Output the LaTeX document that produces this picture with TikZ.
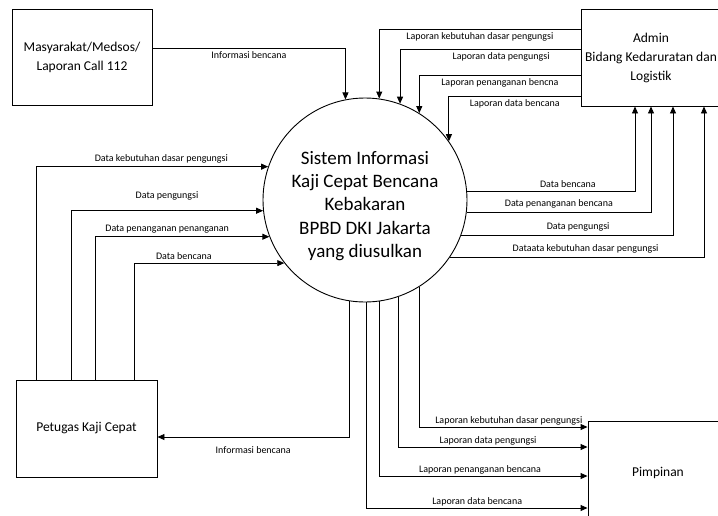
\documentclass[tikz,border=0pt]{standalone}
\usepackage{fontspec}
\setmainfont{Carlito}
\usetikzlibrary{arrows.meta}

\begin{document}
\begin{tikzpicture}[x=1pt, y=-1pt, line width=0.9pt, >={Triangle[length=7pt,width=6pt]},
    entity/.style={draw, rectangle, align=center, inner sep=0pt, font=\fontsize{13.5}{19}\selectfont},
    proc/.style={draw, circle, minimum size=204pt, inner sep=0pt},
    lbl/.style={font=\fontsize{10}{12}\selectfont}]
    \useasboundingbox (0,0) rectangle (718,515);
    \node[entity, minimum width=140pt, minimum height=96pt] (masy) at (82,57) {Masyarakat/Medsos/\\Laporan Call 112};
    \node[entity, minimum width=140pt, minimum height=97pt] (adm) at (651,57.5) {Admin\\Bidang Kedaruratan dan\\Logistik};
    \node[entity, minimum width=141pt, minimum height=97pt] (pet) at (86.5,428.5) {Petugas Kaji Cepat};
    \node[entity, minimum width=140pt, minimum height=104pt] (pim) at (658,473) {Pimpinan};
    \node[proc] (sys) at (365,200) {};
    \node[align=center, font=\fontsize{19}{23.3}\selectfont] (systext) at (365,206) {Sistem Informasi\\Kaji Cepat Bencana\\Kebakaran\\BPBD DKI Jakarta\\yang diusulkan};
    % masukan dari masyarakat
    \draw[->] ([yshift=9pt]masy.east) -| node[lbl, pos=0.25, below] {Informasi bencana} (sys.101.3);
    % admin ke sistem
    \draw[->] ([yshift=28.5pt]adm.west) -| node[lbl, pos=0.25, below] {Laporan kebutuhan dasar pengungsi} (sys.82.1);
    \draw[->] ([yshift=8.5pt]adm.west) -| node[lbl, pos=0.22, below] {Laporan data pengungsi} (sys.70.5);
    \draw[->] ([yshift=-17.5pt]adm.west) -| node[lbl, pos=0.25, below] {Laporan penanganan bencna} (sys.58.0);
    \draw[->] ([yshift=-38.5pt]adm.west) -| node[lbl, pos=0.25, below] {Laporan data bencana} (sys.35.5);
    % sistem ke admin
    \draw[->] (sys.5.6) -| node[lbl, pos=0.3, above] {Data bencana} ([xshift=-16pt]adm.south);
    \draw[->] (sys.-7.9) -| node[lbl, pos=0.25, above] {Data penanganan bencana} (adm.south);
    \draw[->] (sys.-20.1) -| node[lbl, pos=0.276, above] {Data pengungsi} ([xshift=22pt]adm.south);
    \draw[->] (sys.-34.7) -| node[lbl, pos=0.267, above] {Dataata kebutuhan dasar pengungsi} ([xshift=53pt]adm.south);
    % sistem ke pimpinan
    \draw[->] (sys.-58.0) |- node[lbl, pos=0.766, above, inner sep=1pt] {Laporan kebutuhan dasar pengungsi} ([yshift=46pt]pim.west);
    \draw[->] (sys.-71.1) |- node[lbl, pos=0.737, above, inner sep=1pt] {Laporan data pengungsi} ([yshift=26pt]pim.west);
    \draw[->] (sys.-82.1) |- node[lbl, pos=0.742, above, inner sep=1pt] {Laporan penanganan bencana} ([yshift=-3pt]pim.west);
    \draw[->] (sys.-89.4) |- node[lbl, pos=0.75, above, inner sep=1pt] {Laporan data bencana} ([yshift=-35pt]pim.west);
    % sistem ke petugas
    \draw[->] (sys.-99.0) |- node[lbl, pos=0.75, below=6pt] {Informasi bencana} ([yshift=-8.5pt]pet.east);
    % petugas ke sistem
    \draw[->] ([xshift=-50.5pt]pet.north) |- node[lbl, pos=0.77, above] {Data kebutuhan dasar pengungsi} (sys.161.1);
    \draw[->] ([xshift=-15.5pt]pet.north) |- node[lbl, pos=0.75, above=7pt] {Data pengungsi} (sys.186.2);
    \draw[->] ([xshift=8.5pt]pet.north) |- node[lbl, pos=0.707, above] {Data penanganan penanganan} (sys.201.9);
    \draw[->] ([xshift=47.5pt]pet.north) |- node[lbl, pos=0.666, above] {Data bencana} (sys.218.1);
  \end{tikzpicture}
\end{document}
